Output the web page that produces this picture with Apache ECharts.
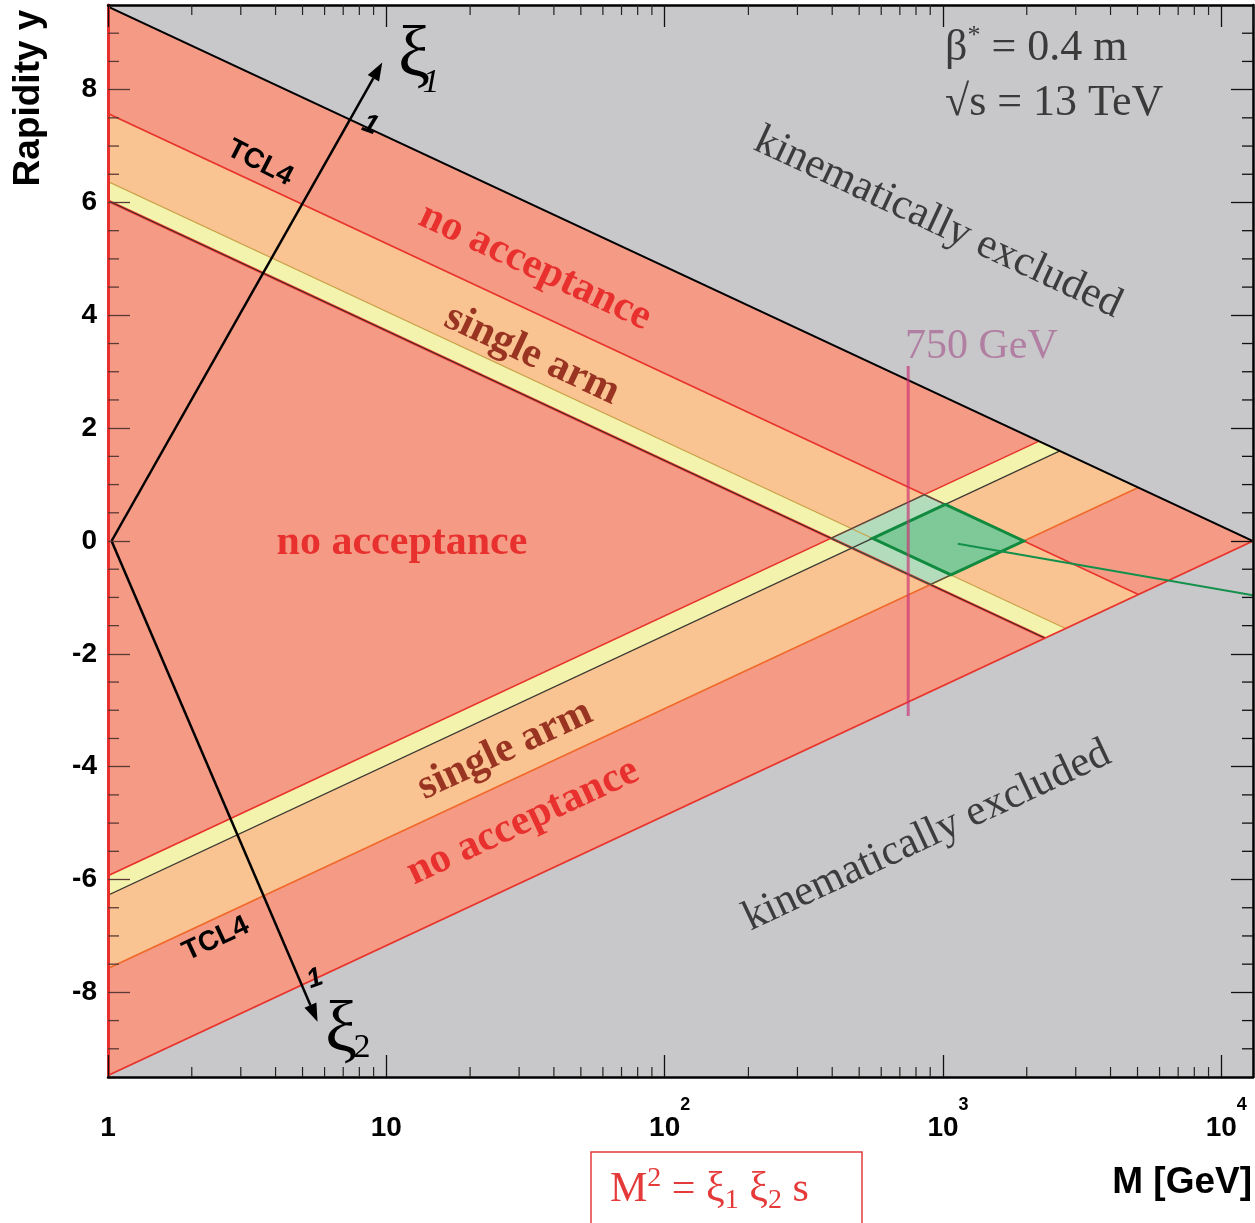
<!DOCTYPE html>
<html><head><meta charset="utf-8">
<script src="https://cdn.jsdelivr.net/npm/echarts@6/dist/echarts.min.js"></script>
<style>html,body{margin:0;padding:0;background:#fff}#c{width:1255px;height:1223px}</style>
</head><body><div id="c"></div>
<script>
// ---------------- data ----------------
const sqrtS = 13000;                       // GeV
const massRange = [1, 13000];              // GeV (x axis, log)
const rapidityRange = [-9.5, 9.5];         // y axis
const xi1Edges = [0.032, 0.045, 0.15];     // arm 1: yellow low, yellow/orange, orange high
const xi2Edges = [0.029, 0.041, 0.15];     // arm 2
const markMass = 750;                      // GeV
const markMassY = [-3.1, 3.1];
const xMajorTicks = [1, 10, 100, 1000, 10000];
const xMinorTicks = [2,3,4,5,6,7,8,9, 20,30,40,50,60,70,80,90, 200,300,400,500,600,700,800,900, 2000,3000,4000,5000,6000,7000,8000,9000];
const yMajorTicks = [-8, -6, -4, -2, 0, 2, 4, 6, 8];
const yMinorTicks = [-9,-8.5,-7.5,-7,-6.5,-5.5,-5,-4.5,-3.5,-3,-2.5,-1.5,-1,-0.5,0.5,1,1.5,2.5,3,3.5,4.5,5,5.5,6.5,7,7.5,8.5,9];
const xi1Arrow = [[1.03, 0], [9.67, 8.48]];
const xi2Arrow = [[1.03, 0], [5.66, -8.52]];
const pointerLine = [[1130, -0.05], [13000, -0.96]];

// ---------------- geometry from kinematics ----------------
const S = sqrtS, lnS = Math.log(S);
const triangle = [[massRange[0], lnS], [S, 0], [massRange[0], -lnS]];
function bandPoly(lo, hi, sgn) {
  return [[1, sgn*Math.log(S*hi)], [S*Math.sqrt(hi), sgn*0.5*Math.log(hi)],
          [S*Math.sqrt(lo), sgn*0.5*Math.log(lo)], [1, sgn*Math.log(S*lo)]];
}
function edgeLine(xi, sgn) { return [[1, sgn*Math.log(S*xi)], [S*Math.sqrt(xi), sgn*0.5*Math.log(xi)]]; }
function pt(x1, x2) { return [S*Math.sqrt(x1*x2), 0.5*Math.log(x1/x2)]; }
function diamond(a1, a2, c1, c2) { return [pt(a1,a2), pt(c1,a2), pt(c1,c2), pt(a1,c2)]; }

const C = {
  bg:'#c8c8ca', red:'#f59b85', orange:'#f9c492', yellow:'#f4f3ad',
  lightGreen:'#b3dcbd', darkGreen:'#7fc898', edgeRed:'#e8342c'
};
const outerD = diamond(xi1Edges[0], xi2Edges[0], xi1Edges[2], xi2Edges[2]);
const innerD = diamond(xi1Edges[1], xi2Edges[1], xi1Edges[2], xi2Edges[2]);
const shapes = [
  {pts: triangle, fill: C.red},
  {pts: bandPoly(xi1Edges[1], xi1Edges[2], 1), fill: C.orange},
  {pts: bandPoly(xi1Edges[0], xi1Edges[1], 1), fill: C.yellow},
  {pts: bandPoly(xi2Edges[1], xi2Edges[2], -1), fill: C.orange},
  {pts: bandPoly(xi2Edges[0], xi2Edges[1], -1), fill: C.yellow},
  {pts: outerD, fill: C.lightGreen},
  {pts: edgeLine(xi1Edges[2], 1), stroke: C.edgeRed, lw: 1.6, open: true},
  {pts: edgeLine(xi1Edges[1], 1), stroke: '#c9a24a', lw: 1.2, open: true},
  {pts: edgeLine(xi1Edges[0], 1), stroke: C.edgeRed, lw: 2.6, open: true},
  {pts: edgeLine(xi1Edges[0], 1), stroke: '#2f2f2a', lw: 1, open: true},
  {pts: edgeLine(xi2Edges[2], -1), stroke: '#ef6a2c', lw: 1.6, open: true},
  {pts: edgeLine(xi2Edges[1], -1), stroke: '#3a3a32', lw: 1.2, open: true},
  {pts: edgeLine(xi2Edges[0], -1), stroke: C.edgeRed, lw: 1.6, open: true},
  {pts: outerD, stroke: '#3d5a48', lw: 1.2},
  {pts: innerD, fill: C.darkGreen, stroke: '#0f8a3e', lw: 3},
  {pts: [triangle[0], triangle[1]], stroke: '#000', lw: 2, open: true},
  {pts: [triangle[1], triangle[2]], stroke: C.edgeRed, lw: 1.8, open: true},
  {pts: [[markMass, markMassY[0]], [markMass, markMassY[1]]], stroke: 'rgba(205,45,115,0.65)', lw: 3, open: true},
  {pts: pointerLine, stroke: '#13904a', lw: 2, open: true}
];

const SERIF = '"Liberation Serif", "Times New Roman", serif';
const SANS = '"Liberation Sans", Arial, sans-serif';
const deg = Math.PI / 180;
const MINOR = 11, MAJOR = 22;

function shapeSeries() {
  return {
    type: 'custom', coordinateSystem: 'cartesian2d', silent: true, z: 2, clip: true,
    data: shapes.map((s, i) => [s.pts[0][0], s.pts[0][1], i]),
    renderItem: (params, api) => {
      const s = shapes[params.dataIndex];
      const points = s.pts.map(v => api.coord(v));
      if (s.open) return {type: 'polyline', z2: params.dataIndex, shape: {points},
        style: {stroke: s.stroke, lineWidth: s.lw, fill: null}};
      return {type: 'polygon', z2: params.dataIndex, shape: {points},
        style: {fill: s.fill || null, stroke: s.stroke || null, lineWidth: s.lw || 0}};
    }
  };
}
function arrowSeries() {
  const arrows = [xi1Arrow, xi2Arrow];
  return {
    type: 'custom', coordinateSystem: 'cartesian2d', silent: true, z: 5,
    data: arrows.map((a, i) => [a[1][0], a[1][1], i]),
    renderItem: (params, api) => {
      const a = arrows[params.dataIndex];
      const p0 = api.coord(a[0]), p1 = api.coord(a[1]);
      const dx = p1[0]-p0[0], dy = p1[1]-p0[1], L = Math.hypot(dx, dy);
      const ux = dx/L, uy = dy/L, nx = -uy, ny = ux, hl = 18, hw = 6.5;
      const b = [p1[0]-ux*hl, p1[1]-uy*hl];
      return {type: 'group', children: [
        {type: 'line', shape: {x1: p0[0], y1: p0[1], x2: b[0], y2: b[1]}, style: {stroke: '#000', lineWidth: 2.5}},
        {type: 'polygon', shape: {points: [p1, [b[0]+nx*hw, b[1]+ny*hw], [b[0]-nx*hw, b[1]-ny*hw]]}, style: {fill: '#000'}}
      ]};
    }
  };
}
function minorTickSeries() {
  const items = xMinorTicks.map(v => [v, 0, 0]).concat(yMinorTicks.map(v => [1, v, 1]));
  return {
    type: 'custom', coordinateSystem: 'cartesian2d', silent: true, z: 20, clip: false,
    data: items,
    renderItem: (params, api) => {
      const it = items[params.dataIndex];
      if (it[2] === 0) {
        const pb = api.coord([it[0], rapidityRange[0]]), pt2 = api.coord([it[0], rapidityRange[1]]);
        return {type: 'group', children: [
          {type: 'line', shape: {x1: pb[0], y1: pb[1], x2: pb[0], y2: pb[1]-MINOR+1}, style: {stroke: '#222', lineWidth: 1.2}},
          {type: 'line', shape: {x1: pt2[0], y1: pt2[1], x2: pt2[0], y2: pt2[1]+MINOR-1}, style: {stroke: '#222', lineWidth: 1.2}}
        ]};
      }
      const pl = api.coord([massRange[0], it[1]]), pr = api.coord([massRange[1], it[1]]);
      return {type: 'group', children: [
        {type: 'line', shape: {x1: pl[0], y1: pl[1], x2: pl[0]+MINOR, y2: pl[1]}, style: {stroke: '#5b3a35', lineWidth: 1.3}},
        {type: 'line', shape: {x1: pr[0], y1: pr[1], x2: pr[0]-MINOR, y2: pr[1]}, style: {stroke: '#111', lineWidth: 1.3}}
      ]};
    }
  };
}

function xLabel(v) {
  const lg = Math.log10(v), e = Math.round(lg);
  if (Math.abs(lg - e) > 1e-6 || xMajorTicks.indexOf(v) < 0) return '';
  if (e === 0) return '{b|1}';
  if (e === 1) return '{b|10}';
  return '{sp|}{b|10}{sup|' + e + '}';
}

function T(text, x, y, style, rot) {
  return {type: 'text', x, y, rotation: (rot || 0) * deg, z: 100, silent: true,
    style: Object.assign({text, align: 'center', verticalAlign: 'middle'}, style)};
}
const noAcc = {fontFamily: SERIF, fontWeight: 'bold', fontSize: 42, fill: '#e8312f'};
const single = {fontFamily: SERIF, fontWeight: 'bold', fontSize: 42, fill: '#9a3422'};
const kin = {fontFamily: SERIF, fontSize: 43, fill: '#3c3c3c'};
const tcl = {fontFamily: SANS, fontWeight: 'bold', fontSize: 28, fill: '#000'};
const one = {fontFamily: SANS, fontWeight: 'bold', fontStyle: 'italic', fontSize: 27, fill: '#000'};

const graphics = [
  T('Rapidity y', 29, 98, {fontFamily: SANS, fontWeight: 'bold', fontSize: 37, fill: '#000'}, 90),
  T('M [GeV]', 1252, 1183, {fontFamily: SANS, fontWeight: 'bold', fontSize: 37, fill: '#000', align: 'right'}),
  {type: 'rect', z: 100, silent: true, shape: {x: 591, y: 1152, width: 271, height: 80},
    style: {fill: 'none', stroke: '#e33b3b', lineWidth: 1.5}},
  T('{b|M}{sup|2}{b| = ξ}{sub|1}{b| ξ}{sub|2}{b| s}', 610, 1190, {align: 'left', fill: '#e53a3a',
    rich: {b: {fontFamily: SERIF, fontSize: 42, lineHeight: 50, fill: '#e53a3a'},
           sup: {fontFamily: SERIF, fontSize: 28, lineHeight: 32, verticalAlign: 'top', fill: '#e53a3a'},
           sub: {fontFamily: SERIF, fontSize: 28, lineHeight: 24, verticalAlign: 'bottom', fill: '#e53a3a'}}}),
  T('{b|β}{sup|*}{b| = 0.4 m}', 945, 48, {align: 'left',
    rich: {b: {fontFamily: SERIF, fontSize: 44, lineHeight: 50, fill: '#3a3a3a'},
           sup: {fontFamily: SERIF, fontSize: 26, lineHeight: 26, verticalAlign: 'top', fill: '#3a3a3a'}}}),
  T('√s = 13 TeV', 945, 103, {align: 'left', fontFamily: SERIF, fontSize: 44, fill: '#3a3a3a'}),
  T('kinematically excluded', 938, 223, kin, -25),
  T('kinematically excluded', 927, 836, kin, 25),
  T('750 GeV', 905, 347, {align: 'left', fontFamily: SERIF, fontSize: 42, fill: '#b07fa2'}),
  T('no acceptance', 402, 543, noAcc),
  T('no acceptance', 535, 267, noAcc, -25),
  T('no acceptance', 523, 822, noAcc, 25),
  T('single arm', 532, 355, single, -25),
  T('single arm', 505, 750, single, 25),
  T('TCL4', 260, 163, tcl, -27),
  T('TCL4', 216, 939, tcl, 25),
  T('ξ', 414, 57, {fontFamily: SERIF, fontSize: 72, fill: '#000'}),
  T('1', 431, 83, {fontFamily: SERIF, fontStyle: 'italic', fontSize: 34, fill: '#000'}),
  T('ξ', 341, 1032, {fontFamily: SERIF, fontSize: 72, fill: '#000'}),
  T('2', 362, 1048, {fontFamily: SERIF, fontSize: 34, fill: '#000'}),
  T('1', 370, 125, one, -20),
  T('1', 315, 979, one, 20)
];

const chart = echarts.init(document.getElementById('c'), null, {renderer: 'canvas'});
chart.setOption({
  animation: false,
  backgroundColor: '#fff',
  grid: {left: 108, right: 2, top: 5, bottom: 146, show: true, backgroundColor: C.bg, borderWidth: 0, containLabel: false},
  xAxis: [
    {type: 'log', logBase: 10, min: massRange[0], max: massRange[1], position: 'bottom', z: 10,
      axisLine: {show: true, onZero: false, lineStyle: {color: '#000', width: 2.5}},
      axisTick: {show: true, inside: true, length: MAJOR, lineStyle: {color: '#111', width: 1.3}},
      axisLabel: {show: true, margin: 19, formatter: xLabel, showMaxLabel: false,
        rich: {b: {fontFamily: SANS, fontWeight: 'bold', fontSize: 28, color: '#000', lineHeight: 64},
               sup: {fontFamily: SANS, fontWeight: 'bold', fontSize: 18, color: '#000', lineHeight: 18, verticalAlign: 'top'},
               sp: {width: 10}}},
      splitLine: {show: false}, minorTick: {show: false}, minorSplitLine: {show: false}},
    {type: 'log', logBase: 10, min: massRange[0], max: massRange[1], position: 'top', z: 10,
      axisLine: {show: true, onZero: false, lineStyle: {color: '#000', width: 2.5}},
      axisTick: {show: true, inside: true, length: MAJOR, lineStyle: {color: '#111', width: 1.3}},
      axisLabel: {show: false}, splitLine: {show: false}}
  ],
  yAxis: [
    {type: 'value', min: rapidityRange[0], max: rapidityRange[1], position: 'left', z: 10,
      axisLine: {show: true, onZero: false, lineStyle: {color: '#e8312f', width: 3}},
      axisTick: {show: true, inside: true, length: MAJOR, customValues: yMajorTicks, lineStyle: {color: '#5b3a35', width: 1.3}},
      axisLabel: {show: true, customValues: yMajorTicks, margin: 11, fontFamily: SANS, fontWeight: 'bold', fontSize: 28, color: '#000'},
      splitLine: {show: false}},
    {type: 'value', min: rapidityRange[0], max: rapidityRange[1], position: 'right', z: 10,
      axisLine: {show: true, onZero: false, lineStyle: {color: '#000', width: 2.5}},
      axisTick: {show: true, inside: true, length: MAJOR, customValues: yMajorTicks, lineStyle: {color: '#111', width: 1.3}},
      axisLabel: {show: false}, splitLine: {show: false}}
  ],
  series: [shapeSeries(), arrowSeries(), minorTickSeries()],
  graphic: {elements: graphics}
});
</script></body></html>
